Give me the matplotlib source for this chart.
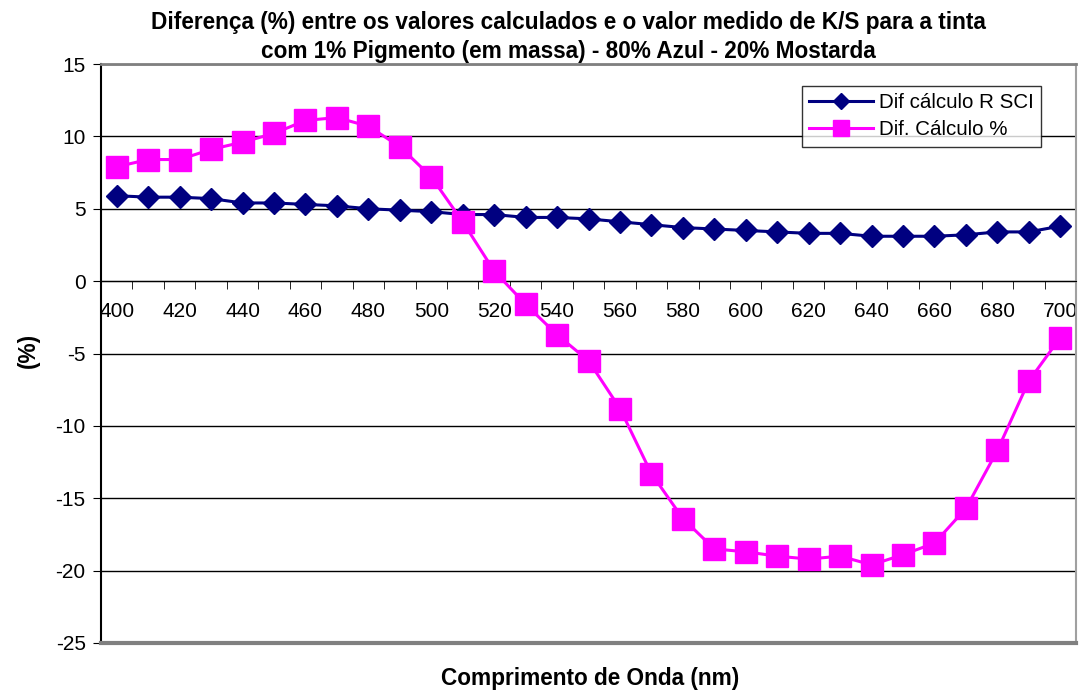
import numpy as np
import matplotlib.pyplot as plt
from matplotlib.ticker import FixedLocator

plt.rcParams['font.family'] = ['Liberation Sans', 'DejaVu Sans']
plt.rcParams['axes.unicode_minus'] = False

# comprimento de onda (nm)
wl = list(range(400, 701, 10))
dif_r_sci = [5.9, 5.8, 5.8, 5.7, 5.4, 5.4, 5.3, 5.2, 5.0, 4.9, 4.8,
             4.6, 4.6, 4.4, 4.4, 4.3, 4.1, 3.9, 3.7, 3.6, 3.5,
             3.4, 3.3, 3.3, 3.1, 3.1, 3.1, 3.2, 3.4, 3.4, 3.8]
dif_calc = [7.9, 8.4, 8.4, 9.1, 9.6, 10.2, 11.1, 11.3, 10.7, 9.3, 7.2,
            4.1, 0.7, -1.6, -3.7, -5.5, -8.8, -13.3, -16.4, -18.5, -18.7,
            -19.0, -19.2, -19.0, -19.6, -18.9, -18.1, -15.7, -11.7, -6.9, -3.9]

x = np.arange(len(wl))

fig = plt.figure(figsize=(10.79, 6.91), dpi=100)
ax = fig.add_axes([101/1079, 1-643/691, (1076-101)/1079, (643-64)/691])

ax.plot(x, dif_r_sci, color='#000080', lw=2.2, marker='D', ms=11,
        label='Dif cálculo R SCI', zorder=3)
ax.plot(x, dif_calc, color='#FF00FF', lw=2.2, marker='s', ms=16,
        label='Dif. Cálculo %', zorder=4)

ax.set_xlim(-0.5, len(wl) - 0.5)
ax.set_ylim(-25, 15)
ax.set_yticks(range(-25, 16, 5))
ax.yaxis.grid(True, color='black', lw=1)
ax.set_axisbelow(True)

# eixo x cruzando em 0 (estilo Excel)
ax.spines['bottom'].set_position(('data', 0))
ax.spines['bottom'].set_color('black')
ax.spines['left'].set_color('black')
ax.spines['left'].set_linewidth(1.5)
ax.spines['top'].set_color('#808080')
ax.spines['top'].set_linewidth(2)
ax.spines['right'].set_color('#a0a0a0')
ax.spines['right'].set_linewidth(1.5)
ax.axhline(-25, color='#808080', lw=3, zorder=5, clip_on=False)

ax.set_xticks(x[::2])
ax.set_xticklabels([str(w) for w in wl[::2]])
ax.xaxis.set_minor_locator(FixedLocator(np.arange(-0.5, len(wl), 1)))
ax.tick_params(axis='x', which='major', length=0, pad=15, labelsize=15)
ax.tick_params(axis='x', which='minor', length=6, direction='out')
ax.tick_params(axis='y', length=6, labelsize=15, pad=5)

fig.text(568/1079, 1-37/691,
         'Diferença (%) entre os valores calculados e o valor medido de K/S para a tinta\n'
         'com 1% Pigmento (em massa) - 80% Azul - 20% Mostarda',
         ha='center', va='center', fontsize=16.3, fontweight='bold', linespacing=1.3)
fig.text(590/1079, 1-679/691, 'Comprimento de Onda (nm)', ha='center', va='center',
         fontsize=16.3, fontweight='bold')
fig.text(28/1079, 1-350/691, '(%)', ha='center', va='center', rotation=90,
         fontsize=16.3, fontweight='bold')

leg = ax.legend(loc='upper left', bbox_to_anchor=(802/1079, 1-86/691),
                bbox_transform=fig.transFigure, borderaxespad=0, fontsize=14.8,
                frameon=True, fancybox=False, edgecolor='black', markerscale=0.7,
                handlelength=3.1, borderpad=0.35, labelspacing=0.4,
                handletextpad=0.3)
leg.get_frame().set_linewidth(1)

fig.savefig('out.png', dpi=100)
